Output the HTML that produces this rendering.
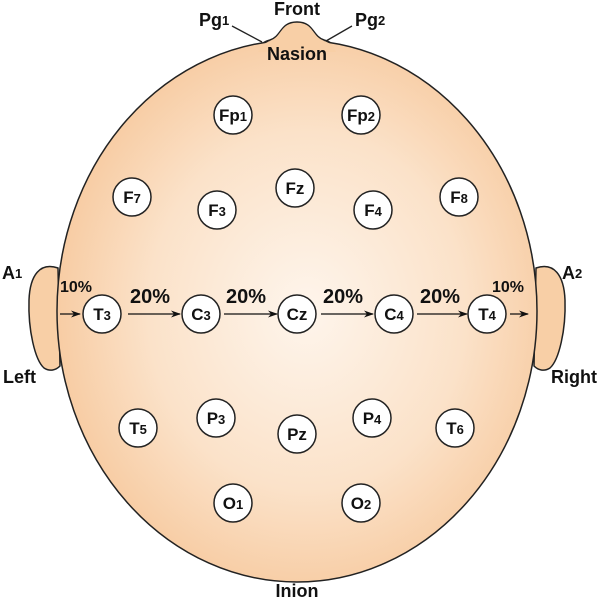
<!DOCTYPE html>
<html><head><meta charset="utf-8"><style>
html,body{margin:0;padding:0;background:#fff;}
svg text{font-family:"Liberation Sans",Arial,sans-serif;font-weight:bold;fill:#111;}
</style></head><body>
<svg width="600" height="599" viewBox="0 0 600 599" xmlns="http://www.w3.org/2000/svg">
<defs>
<radialGradient id="g" cx="52%" cy="50%" r="55%">
<stop offset="0" stop-color="#fef5ec"/>
<stop offset="0.6" stop-color="#fbe2c9"/>
<stop offset="1" stop-color="#f7c99e"/>
</radialGradient>
<marker id="ar" markerWidth="10" markerHeight="8" refX="9" refY="4" orient="auto" markerUnits="userSpaceOnUse">
<path d="M0,0.5 L10,4 L0,7.5 L3,4 Z" fill="#111"/>
</marker>
</defs>
<path d="M58,268 C40,262 30,275 29,300 C28,330 35,360 44,368 C50,372 56,370 60,366 Z" fill="#f8cfa6" stroke="#222" stroke-width="1.5"/>
<path d="M536,268 C554,262 564,275 565,300 C566,330 559,360 550,368 C544,372 538,370 534,366 Z" fill="#f8cfa6" stroke="#222" stroke-width="1.5"/>
<path d="M255,55 C260,45 262,42 270,40 C282,36 280,22 297,22 C314,22 312,36 324,40 C332,42 334,45 339,55 Z" fill="#f8cfa6" stroke="#222" stroke-width="1.5"/>
<ellipse cx="297" cy="311" rx="240" ry="271" fill="url(#g)" stroke="#222" stroke-width="1.5"/>
<path d="M258,52 C262,45 265,43 270,41 C282,37 280,23 297,23 C314,23 312,37 324,41 C330,43 333,45 336,52 Z" fill="#f8cfa6" stroke="none"/>
<line x1="232" y1="26" x2="262" y2="42" stroke="#222" stroke-width="1.3"/>
<line x1="352" y1="26" x2="326" y2="41" stroke="#222" stroke-width="1.3"/>
<text x="297" y="15" font-size="18" text-anchor="middle">Front</text>
<text x="199" y="26" font-size="18">Pg<tspan font-size="13" dy="-1">1</tspan></text>
<text x="355" y="26" font-size="18">Pg<tspan font-size="13" dy="-1">2</tspan></text>
<text x="297" y="60" font-size="18" text-anchor="middle">Nasion</text>
<text x="297" y="597" font-size="18" text-anchor="middle">Inion</text>
<text x="2" y="279" font-size="18">A<tspan font-size="13" dy="-1">1</tspan></text>
<text x="562" y="279" font-size="18">A<tspan font-size="13" dy="-1">2</tspan></text>
<text x="3" y="383" font-size="18">Left</text>
<text x="551" y="383" font-size="18">Right</text>
<g stroke="#111" stroke-width="1.2" marker-end="url(#ar)">
<line x1="60" y1="314" x2="80" y2="314"/>
<line x1="128" y1="314" x2="180" y2="314"/>
<line x1="224" y1="314" x2="277" y2="314"/>
<line x1="321" y1="314" x2="373" y2="314"/>
<line x1="417" y1="314" x2="467" y2="314"/>
<line x1="510" y1="314" x2="528" y2="314"/>
</g>
<g font-size="16"><text x="60" y="292">10%</text><text x="492" y="292">10%</text></g>
<g font-size="20" text-anchor="middle">
<text x="150" y="303">20%</text><text x="246" y="303">20%</text><text x="343" y="303">20%</text><text x="440" y="303">20%</text>
</g>
<g stroke="#222" stroke-width="1.5" fill="#fff">
<circle cx="233" cy="115" r="19"/><circle cx="361" cy="115" r="19"/>
<circle cx="132" cy="197" r="19"/><circle cx="217" cy="210" r="19"/><circle cx="295" cy="188" r="19"/><circle cx="373" cy="210" r="19"/><circle cx="459" cy="197" r="19"/>
<circle cx="102" cy="314" r="19"/><circle cx="201" cy="314" r="19"/><circle cx="297" cy="314" r="19"/><circle cx="394" cy="314" r="19"/><circle cx="487" cy="314" r="19"/>
<circle cx="138" cy="428" r="19"/><circle cx="216" cy="418" r="19"/><circle cx="297" cy="434" r="19"/><circle cx="372" cy="418" r="19"/><circle cx="455" cy="428" r="19"/>
<circle cx="233" cy="503" r="19"/><circle cx="361" cy="503" r="19"/>
</g>
<g font-size="17" text-anchor="middle">
<text x="233" y="121">Fp<tspan font-size="13">1</tspan></text>
<text x="361" y="121">Fp<tspan font-size="13">2</tspan></text>
<text x="132" y="203">F<tspan font-size="13">7</tspan></text>
<text x="217" y="216">F<tspan font-size="13">3</tspan></text>
<text x="295" y="194">Fz</text>
<text x="373" y="216">F<tspan font-size="13">4</tspan></text>
<text x="459" y="203">F<tspan font-size="13">8</tspan></text>
<text x="102" y="320">T<tspan font-size="13">3</tspan></text>
<text x="201" y="320">C<tspan font-size="13">3</tspan></text>
<text x="297" y="320">Cz</text>
<text x="394" y="320">C<tspan font-size="13">4</tspan></text>
<text x="487" y="320">T<tspan font-size="13">4</tspan></text>
<text x="138" y="434">T<tspan font-size="13">5</tspan></text>
<text x="216" y="424">P<tspan font-size="13">3</tspan></text>
<text x="297" y="440">Pz</text>
<text x="372" y="424">P<tspan font-size="13">4</tspan></text>
<text x="455" y="434">T<tspan font-size="13">6</tspan></text>
<text x="233" y="509">O<tspan font-size="13">1</tspan></text>
<text x="361" y="509">O<tspan font-size="13">2</tspan></text>
</g>
</svg>
</body></html>
